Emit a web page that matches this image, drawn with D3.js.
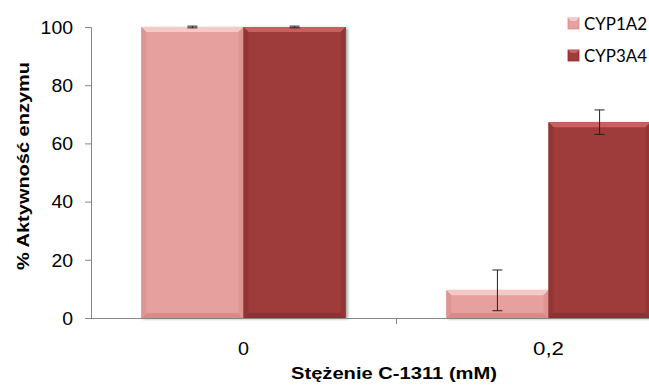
<!DOCTYPE html>
<html><head><meta charset="utf-8">
<script src="https://cdn.jsdelivr.net/npm/d3@7"></script>
<style>body{margin:0;background:#fff}svg{display:block}</style>
</head><body>
<svg id="c" width="649" height="387"></svg>
<script>
const categories = ["0", "0,2"];
const seriesNames = ["CYP1A2", "CYP3A4"];
const cyp1a2 = [100, 9.5];
const cyp1a2Err = [0.3, 7];
const cyp3a4 = [100, 67.3];
const cyp3a4Err = [0.3, 4.2];
const yTicks = [0, 20, 40, 60, 80, 100];

(function(){
const colors = {
  CYP1A2: {base: "#E6A19F", top: "#F6C8C6", side: "#DE9694", bottom: "#D88C8A"},
  CYP3A4: {base: "#9E3B3B", top: "#C9605E", side: "#943535", bottom: "#8A3030"}
};

const svg = d3.select("#c");
const defs = svg.append("defs");
const f = defs.append("filter").attr("id","sh").attr("x","-10%").attr("y","-10%").attr("width","130%").attr("height","130%");
f.append("feGaussianBlur").attr("in","SourceAlpha").attr("stdDeviation",1.5).attr("result","b");
f.append("feOffset").attr("in","b").attr("dx",2).attr("dy",1).attr("result","o");
f.append("feComponentTransfer").attr("in","o").attr("result","o2").append("feFuncA").attr("type","linear").attr("slope",0.35);
const m = f.append("feMerge"); m.append("feMergeNode").attr("in","o2"); m.append("feMergeNode").attr("in","SourceGraphic");

const pLeft = 91, pTop = 27, pBottom = 318;
const x0 = d3.scaleBand().domain(categories).range([pLeft, pLeft + 610]).paddingInner(0).paddingOuter(0);
const x1 = d3.scaleBand().domain(seriesNames).range([0, x0.bandwidth() * 0.67]);
const y = d3.scaleLinear().domain([0, 100]).range([pBottom, pTop]);

const data = [];
categories.forEach((c, i) => {
  data.push({cat: c, s: "CYP1A2", v: cyp1a2[i], e: cyp1a2Err[i]});
  data.push({cat: c, s: "CYP3A4", v: cyp3a4[i], e: cyp3a4Err[i]});
});
const off = x0.bandwidth() * 0.165;

const g = svg.append("g");
data.forEach(d => {
  const bx = x0(d.cat) + off + x1(d.s), bw = x1.bandwidth();
  const by = y(d.v), bh = y(0) - y(d.v);
  const c = colors[d.s];
  const bg = g.append("g").attr("filter", "url(#sh)");
  bg.append("rect").attr("x", bx).attr("y", by).attr("width", bw).attr("height", bh).attr("fill", c.base);
  const b = Math.min(5, bh / 2);
  bg.append("path").attr("d", `M${bx},${by}L${bx+bw},${by}L${bx+bw-b},${by+b}L${bx+b},${by+b}Z`).attr("fill", c.top);
  bg.append("path").attr("d", `M${bx},${by+bh}L${bx+bw},${by+bh}L${bx+bw-b},${by+bh-b}L${bx+b},${by+bh-b}Z`).attr("fill", c.bottom);
  bg.append("path").attr("d", `M${bx},${by}L${bx+b},${by+b}L${bx+b},${by+bh-b}L${bx},${by+bh}Z`).attr("fill", c.side);
  bg.append("path").attr("d", `M${bx+bw},${by}L${bx+bw-b},${by+b}L${bx+bw-b},${by+bh-b}L${bx+bw},${by+bh}Z`).attr("fill", c.side);
  const cx = bx + bw / 2;
  const eg = g.append("g").attr("stroke", "#222").attr("stroke-width", 1);
  eg.append("line").attr("x1", cx).attr("x2", cx).attr("y1", y(d.v + d.e)).attr("y2", y(d.v - d.e));
  eg.append("line").attr("x1", cx-5).attr("x2", cx+5).attr("y1", y(d.v + d.e)).attr("y2", y(d.v + d.e));
  eg.append("line").attr("x1", cx-5).attr("x2", cx+5).attr("y1", y(d.v - d.e)).attr("y2", y(d.v - d.e));
});

const yAxis = svg.append("g").attr("transform", `translate(${pLeft},0)`)
  .call(d3.axisLeft(y).tickValues(yTicks).tickSize(6).tickPadding(12));
yAxis.select(".domain").attr("stroke", "#868686");
yAxis.selectAll(".tick line").attr("stroke", "#868686");
yAxis.selectAll(".tick text").attr("font-family", "Liberation Sans, Arial").attr("font-size", 18).attr("fill", "#000")
  .attr("dy", "0.35em").attr("transform","scale(1.08,1)").attr("x", -18/1.08);

const xAxisG = svg.append("g").attr("transform", `translate(0,${pBottom})`);
xAxisG.append("line").attr("x1", pLeft).attr("x2", 649).attr("y1", 0.5).attr("y2", 0.5).attr("stroke", "#868686");
[pLeft + x0.bandwidth()].forEach(t => {
  xAxisG.append("line").attr("x1", t+0.5).attr("x2", t+0.5).attr("y1", 0).attr("y2", 6).attr("stroke", "#868686");
});
categories.forEach(c => {
  const cx = x0(c) + x0.bandwidth() / 2;
  svg.append("text").attr("x", cx).attr("y", 355).attr("text-anchor", "middle")
    .attr("font-family", "Liberation Sans, Arial").attr("font-size", 18).attr("fill", "#000")
    .attr("textLength", c === "0" ? 11 : 31).attr("lengthAdjust","spacingAndGlyphs").text(c);
});

svg.append("text").attr("x", 394).attr("y", 379).attr("text-anchor", "middle")
  .attr("font-family", "Liberation Sans, Arial").attr("font-weight", "bold").attr("font-size", 17)
  .attr("textLength", 206).attr("lengthAdjust", "spacingAndGlyphs").text("Stężenie C-1311 (mM)");
svg.append("text").attr("transform", "translate(29,166) rotate(-90)").attr("text-anchor", "middle")
  .attr("font-family", "Liberation Sans, Arial").attr("font-weight", "bold").attr("font-size", 17)
  .attr("textLength", 208).attr("lengthAdjust", "spacingAndGlyphs").text("% Aktywność enzymu");

seriesNames.forEach((s, i) => {
  const ly = 18 + i * 32;
  const c = colors[s];
  const lg = svg.append("g");
  lg.append("rect").attr("x", 568).attr("y", ly).attr("width", 11).attr("height", 11).attr("fill", c.base).attr("stroke", c.bottom).attr("stroke-width", 0.8);
  lg.append("path").attr("d", `M568,${ly}L579,${ly}L576,${ly+3}L571,${ly+3}Z`).attr("fill", c.top);
  lg.append("text").attr("x", 584).attr("y", ly + 12).attr("font-family", "Lato, Open Sans").attr("font-size", 17)
    .attr("textLength", 63).attr("lengthAdjust", "spacingAndGlyphs").attr("fill", "#000").text(s);
});
})();
</script>
</body></html>
